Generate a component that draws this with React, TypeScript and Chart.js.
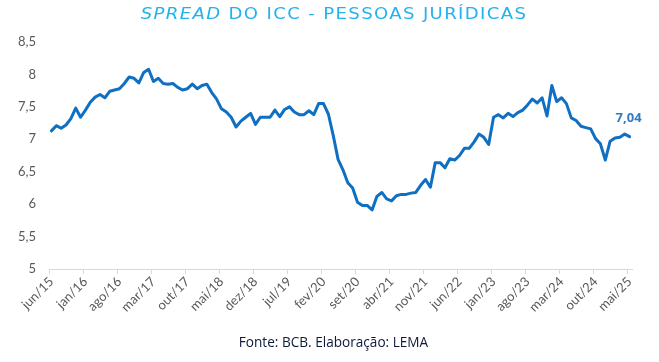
import React, { useEffect, useRef } from "react";
import { Chart, registerables } from "chart.js";

Chart.register(...registerables);

const MONTHS = ["jan", "fev", "mar", "abr", "mai", "jun", "jul", "ago", "set", "out", "nov", "dez"];
const START_YEAR = 2015;
const START_MONTH_INDEX = 5; // jun
const TICK_EVERY = 7;

const SPREAD_PJ = [
  7.13, 7.21, 7.17, 7.22, 7.32, 7.48, 7.34, 7.45, 7.57, 7.65,
  7.69, 7.64, 7.74, 7.76, 7.78, 7.86, 7.96, 7.94, 7.87, 8.03,
  8.08, 7.89, 7.94, 7.86, 7.85, 7.86, 7.80, 7.76, 7.78, 7.85,
  7.78, 7.83, 7.85, 7.72, 7.62, 7.47, 7.42, 7.34, 7.19, 7.28,
  7.34, 7.40, 7.23, 7.34, 7.34, 7.34, 7.45, 7.35, 7.46, 7.50,
  7.42, 7.38, 7.38, 7.44, 7.38, 7.55, 7.55, 7.39, 7.06, 6.69,
  6.53, 6.33, 6.25, 6.03, 5.98, 5.98, 5.91, 6.12, 6.18, 6.08,
  6.05, 6.13, 6.15, 6.15, 6.17, 6.18, 6.29, 6.38, 6.26, 6.64,
  6.64, 6.56, 6.70, 6.68, 6.75, 6.86, 6.86, 6.96, 7.08, 7.03,
  6.92, 7.34, 7.38, 7.33, 7.40, 7.35, 7.41, 7.45, 7.53, 7.62,
  7.56, 7.64, 7.36, 7.83, 7.58, 7.64, 7.55, 7.33, 7.29, 7.20,
  7.18, 7.16, 7.01, 6.93, 6.68, 6.97, 7.02, 7.03, 7.08, 7.04,
];

const CATEGORIES = SPREAD_PJ.map((_, i) => {
  const m = START_MONTH_INDEX + i;
  const y = START_YEAR + Math.floor(m / 12);
  return `${MONTHS[m % 12]}/${String(y).slice(2)}`;
});

const Y_MIN = 5;
const Y_MAX = 8.5;
const Y_STEP = 0.5;

const TITLE_ITALIC = "SPREAD";
const TITLE_REST = " DO ICC - PESSOAS JURÍDICAS";
const FOOTER = "Fonte: BCB. Elaboração: LEMA";

const LINE_COLOR = "#0F6FC3";
const AXIS_COLOR = "#D9D9D9";
const TICK_COLOR = "#595959";

const fmt = (v: number, digits?: number) =>
  (digits !== undefined ? v.toFixed(digits) : String(v)).replace(".", ",");

const lastLabelPlugin = {
  id: "lastLabel",
  afterDatasetsDraw(chart: any) {
    const meta = chart.getDatasetMeta(0);
    const pt = meta.data[meta.data.length - 1];
    if (!pt) return;
    const ctx = chart.ctx;
    ctx.save();
    ctx.font = 'bold 13px "Open Sans", sans-serif';
    ctx.fillStyle = "#2F7BC4";
    ctx.textAlign = "center";
    ctx.textBaseline = "middle";
    ctx.fillText(fmt(SPREAD_PJ[SPREAD_PJ.length - 1], 2), pt.x - 1, pt.y - 18);
    ctx.restore();
  },
};

export default function App() {
  const canvasRef = useRef<HTMLCanvasElement | null>(null);

  useEffect(() => {
    document.body.style.margin = "0";
    const canvas = canvasRef.current;
    if (!canvas) return;
    const chart = new Chart(canvas, {
      type: "line",
      data: {
        labels: CATEGORIES,
        datasets: [
          {
            data: SPREAD_PJ,
            borderColor: LINE_COLOR,
            backgroundColor: LINE_COLOR,
            borderWidth: 3,
            pointRadius: 0,
            pointHoverRadius: 0,
            tension: 0,
            borderJoinStyle: "round",
            borderCapStyle: "round",
            clip: false as any,
          },
        ],
      },
      options: {
        animation: false,
        responsive: false,
        events: [],
        layout: { padding: { top: 42, left: 0, right: 27, bottom: 0 } },
        plugins: {
          legend: { display: false },
          tooltip: { enabled: false },
          title: { display: false },
        },
        scales: {
          x: {
            type: "category",
            offset: true,
            grid: {
              display: true,
              offset: true,
              drawOnChartArea: false,
              drawTicks: true,
              tickLength: 5,
              lineWidth: 1,
              color: (ctx: any) =>
                ctx.index !== undefined && ctx.index % TICK_EVERY === 0 ? AXIS_COLOR : "rgba(0,0,0,0)",
            },
            border: { display: true, color: AXIS_COLOR, width: 1 },
            ticks: {
              autoSkip: false,
              maxRotation: 45,
              minRotation: 45,
              padding: 0,
              color: TICK_COLOR,
              font: { family: "Lato, sans-serif", size: 13 },
              callback: (_v: any, idx: number) => (idx % TICK_EVERY === 0 ? CATEGORIES[idx] : ""),
            },
            afterFit: (scale: any) => {
              scale.height = 93;
            },
          },
          y: {
            min: Y_MIN,
            max: Y_MAX,
            grid: { display: false, drawTicks: false },
            border: { display: false },
            ticks: {
              stepSize: Y_STEP,
              padding: 13,
              color: TICK_COLOR,
              font: { family: "Lato, sans-serif", size: 13 },
              callback: (v: any) => fmt(Number(v)),
            },
            afterFit: (scale: any) => {
              scale.width = 49;
            },
          },
        },
      },
      plugins: [lastLabelPlugin],
    });
    return () => chart.destroy();
  }, []);

  return (
    <div style={{ position: "fixed", left: 0, top: 0, width: 659, height: 362, background: "#fff" }}>
      <canvas ref={canvasRef} width={659} height={362} style={{ position: "absolute", left: 0, top: 0 }} />
      <div
        style={{
          position: "absolute",
          left: 0,
          top: 4,
          width: 668,
          textAlign: "center",
          color: "#22B2EE",
          fontFamily: '"DejaVu Sans", sans-serif',
          fontWeight: 400,
          fontSize: 16,
          letterSpacing: "1.2px",
          lineHeight: "20px",
          whiteSpace: "nowrap",
          transform: "scaleX(1.13)",
          transformOrigin: "334px 50%",
        }}
      >
        <span style={{ fontStyle: "italic" }}>{TITLE_ITALIC}</span>
        <span>{TITLE_REST}</span>
      </div>
      <div
        style={{
          position: "absolute",
          left: 0,
          top: 332,
          width: 667,
          textAlign: "center",
          color: "#0E1A3A",
          fontFamily: '"Open Sans", sans-serif',
          fontSize: 13.6,
          lineHeight: "20px",
          whiteSpace: "nowrap",
        }}
      >
        {FOOTER}
      </div>
    </div>
  );
}
